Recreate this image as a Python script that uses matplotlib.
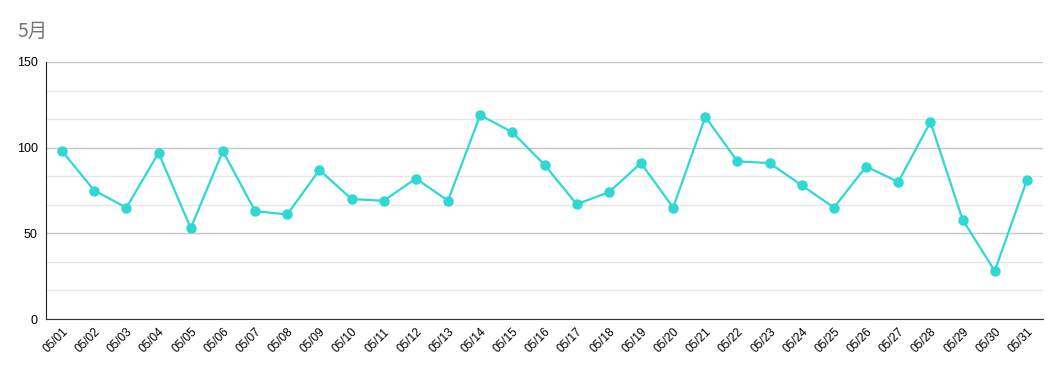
import matplotlib
matplotlib.use("Agg")
import matplotlib.pyplot as plt
from matplotlib.ticker import MultipleLocator

plt.rcParams['font.family'] = ['Noto Sans CJK JP', 'DejaVu Sans']

# data
dates = ["05/%02d" % d for d in range(1, 32)]
values = [98, 75, 65, 97, 53, 98, 63, 61, 87, 70,
          69, 82, 69, 119, 109, 90, 67, 74, 91, 65,
          118, 92, 91, 78, 65, 89, 80, 115, 58, 28, 81]
title = "5月"

fig = plt.figure(figsize=(10.61, 3.71), dpi=100)
ax = fig.add_axes([46/1061, 1 - 319/371, (1043 - 46)/1061, (319 - 62)/371])

x = list(range(len(dates)))
ax.plot(x, values, color='#2ed8d3', linewidth=1.6, marker='o', markersize=6.5, zorder=3)

ax.set_xlim(-0.5, len(dates) - 0.5)
ax.set_ylim(0, 150)
ax.yaxis.set_major_locator(MultipleLocator(50))
ax.yaxis.set_minor_locator(MultipleLocator(50/3))
ax.grid(axis='y', which='major', color='#c6c6c6', linewidth=1)
ax.grid(axis='y', which='minor', color='#e6e6e6', linewidth=1)
ax.set_axisbelow(True)

ax.set_xticks(x)
ax.set_xticklabels(dates, rotation=45, ha='right', rotation_mode='anchor', fontsize=8.5,
                   family='Liberation Sans')
for lab in ax.get_yticklabels():
    lab.set_family('Liberation Sans')
ax.tick_params(axis='both', which='both', length=0)
ax.tick_params(axis='y', labelsize=9, pad=6)
ax.tick_params(axis='x', pad=5)

for s in ['top', 'right']:
    ax.spines[s].set_visible(False)
ax.spines['left'].set_color('#222222')
ax.spines['bottom'].set_color('#333333')

fig.text(18/1061, 1 - 31/371, title, fontsize=14, color='#757575', va='center', ha='left')

fig.savefig("out.png", dpi=100)
